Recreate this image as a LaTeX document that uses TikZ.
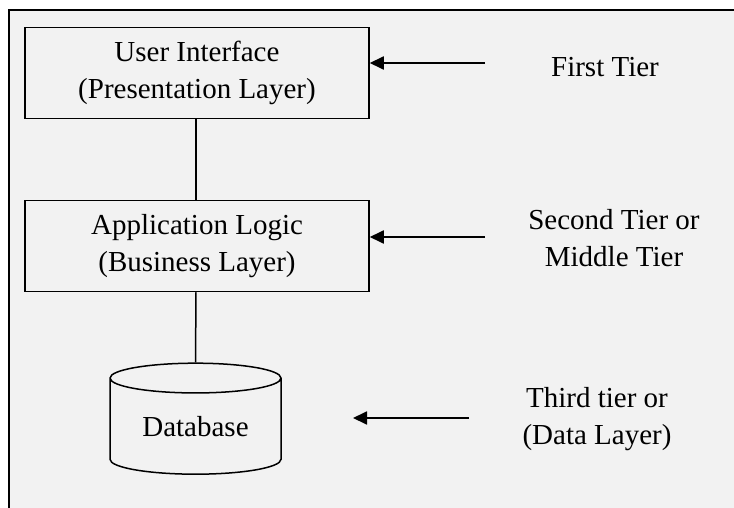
\documentclass[tikz,border=0pt]{standalone}
\usepackage{fontspec}
\setmainfont{Liberation Serif}
\usetikzlibrary{shapes.geometric,arrows.meta}
\definecolor{paneGray}{HTML}{F2F2F2}
\tikzset{
  layer/.style={draw, line width=1.5pt, minimum width=344pt, minimum height=91pt, align=center, inner sep=0pt},
  store/.style={cylinder, shape border rotate=90, aspect=0.28, draw, line width=1.5pt, minimum width=171pt, minimum height=111pt, inner sep=0pt},
  tier/.style={align=center, inner sep=0pt},
  link/.style={line width=1.5pt},
  pointer/.style={line width=1.8pt, -{Triangle[length=14pt,width=13pt]}}
}
\begin{document}
\begin{tikzpicture}[x=1pt, y=-1pt, font=\fontsize{29}{37}\selectfont]
        \useasboundingbox (0,0) rectangle (734,508);
        % frame
        \fill[paneGray] (9,10) rectangle (745,520);
        \draw[line width=2.4pt] (9,520) -- (9,10) -- (745,10);

        % layers
        \node[layer] (ui) at (197,73) {User Interface\\(Presentation Layer)};
        \node[layer] (logic) at (197,246) {Application Logic\\(Business Layer)};
        \node[store] (db) at (195.5,426.5) {Database};
        \draw[link] (ui.south -| 196,0) -- (logic.north -| 196,0);
        \draw[link] (logic.south -| 196,0) -- (db.top);

        % tiers
        \node[tier] (first) at (605,67) {First Tier};
        \node[tier] (second) at (614,238) {Second Tier or\\Middle Tier};
        \node[tier] (third) at (597,419) {Third tier or\\(Data Layer)};
        \coordinate (p1) at (485,63);
        \coordinate (p2) at (485,237);
        \coordinate (p3) at (469,418);
        \draw[pointer] (p1) -- (ui.east |- p1);
        \draw[pointer] (p2) -- (logic.east |- p2);
        \draw[pointer] (p3) -- (353,418);
    \end{tikzpicture}
\end{document}
